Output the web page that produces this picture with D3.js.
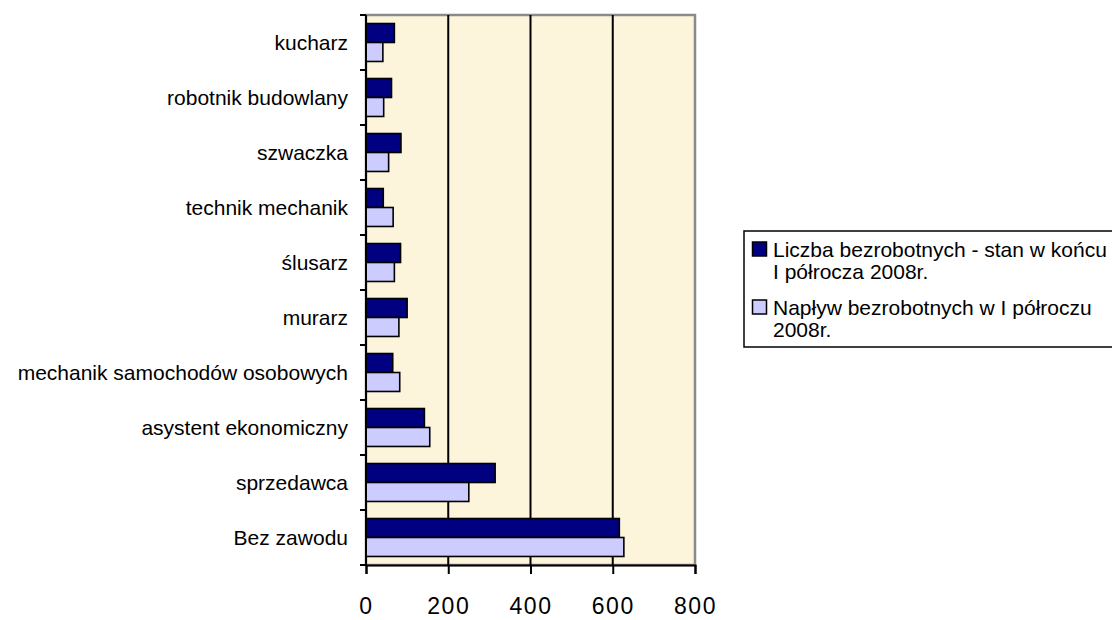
<!DOCTYPE html>
<html>
<head>
<meta charset="utf-8">
<script src="https://cdn.jsdelivr.net/npm/d3@7"></script>
<style>
  body { margin: 0; background: #fff; }
  text { font-family: "Liberation Sans", Arial, sans-serif; fill: #000; }
</style>
</head>
<body>
<svg id="chart" width="1112" height="620"></svg>
<script>
// categories, top to bottom
const categories = ['kucharz', 'robotnik budowlany', 'szwaczka', 'technik mechanik', 'ślusarz',
    'murarz', 'mechanik samochodów osobowych', 'asystent ekonomiczny', 'sprzedawca', 'Bez zawodu'];
// Liczba bezrobotnych - stan w końcu I półrocza 2008r.
const stanValues = [69, 62, 85, 42, 84, 100, 65, 142, 314, 616];
// Napływ bezrobotnych w I półroczu 2008r.
const naplywValues = [41, 43, 55, 66, 69, 80, 82, 155, 250, 627];
const seriesNames = ['Liczba bezrobotnych - stan w końcu|I półrocza 2008r.', 'Napływ bezrobotnych w I półroczu|2008r.'];
const xTicks = [0, 200, 400, 600, 800];

const colors = ['#000080', '#ccccff'];

const svg = d3.select('#chart'),
    margin = { top: 15, left: 366, right: 417, bottom: 55 },
    width = 1112 - margin.left - margin.right,
    height = 620 - margin.top - margin.bottom;

const g = svg.append('g')
    .attr('transform', 'translate(' + margin.left + ',' + margin.top + ')');

const x = d3.scaleLinear().domain([0, 800]).range([0, width]);
const y = d3.scaleBand().domain(categories).range([0, height]).paddingInner(0.31).paddingOuter(0.155);
const sub = d3.scaleBand().domain([0, 1]).range([0, y.bandwidth()]);

// plot background
g.append('rect')
    .attr('width', width).attr('height', height)
    .attr('fill', '#fdf4dc')
    .attr('stroke', '#8a8a8a').attr('stroke-width', 2.5);

// vertical gridlines
g.selectAll('.grid')
    .data(xTicks.slice(1, -1))
    .enter().append('line')
    .attr('x1', d => x(d)).attr('x2', d => x(d))
    .attr('y1', 0).attr('y2', height)
    .attr('stroke', '#000').attr('stroke-width', 2);

// bars
const data = categories.map((c, i) => ({ cat: c, vals: [stanValues[i], naplywValues[i]] }));
const groups = g.selectAll('.cat')
    .data(data)
    .enter().append('g')
    .attr('transform', d => 'translate(0,' + y(d.cat) + ')');

groups.selectAll('rect')
    .data(d => d.vals)
    .enter().append('rect')
    .attr('x', 0)
    .attr('y', (d, i) => sub(i))
    .attr('width', d => x(d))
    .attr('height', sub.bandwidth())
    .attr('fill', (d, i) => colors[i])
    .attr('stroke', '#000').attr('stroke-width', 1.6);

// y axis: ticks between categories
const yBounds = d3.range(categories.length + 1).map(i => height * i / categories.length);
g.append('line')
    .attr('x1', 0).attr('x2', 0).attr('y1', 0).attr('y2', height)
    .attr('stroke', '#000').attr('stroke-width', 2);
g.selectAll('.ytick')
    .data(yBounds)
    .enter().append('line')
    .attr('x1', -6).attr('x2', 0)
    .attr('y1', d => d).attr('y2', d => d)
    .attr('stroke', '#000').attr('stroke-width', 2);
g.selectAll('.ylabel')
    .data(categories)
    .enter().append('text')
    .attr('x', -18)
    .attr('y', d => y(d) + y.bandwidth() / 2)
    .attr('dy', '0.35em')
    .attr('text-anchor', 'end')
    .style('font-size', '21px')
    .text(d => d);

// x axis
const xAxis = g.append('g')
    .attr('transform', 'translate(0,' + height + ')')
    .call(d3.axisBottom(x).tickValues(xTicks).tickSize(9).tickPadding(24));
xAxis.select('.domain').attr('stroke', '#000').attr('stroke-width', 2);
xAxis.selectAll('.tick line').attr('stroke', '#000').attr('stroke-width', 2);
xAxis.selectAll('.tick text')
    .style('font-size', '23px')
    .style('letter-spacing', '1.5px')
    .style('font-family', '"Liberation Sans", Arial, sans-serif');

// legend
const legend = svg.append('g').attr('transform', 'translate(744,231)');
legend.append('rect')
    .attr('width', 380).attr('height', 116)
    .attr('fill', '#fff').attr('stroke', '#000').attr('stroke-width', 1.5);
seriesNames.forEach((name, i) => {
    const top = 11 + i * 58;
    legend.append('rect')
        .attr('x', 8.5).attr('y', top)
        .attr('width', 14).attr('height', 14)
        .attr('fill', colors[i]).attr('stroke', '#000').attr('stroke-width', 1.5);
    name.split('|').forEach((line, j) => {
        legend.append('text')
            .attr('x', 29).attr('y', top + 15 + j * 21.5)
            .style('font-size', '21px')
            .text(line);
    });
});
</script>
</body>
</html>
